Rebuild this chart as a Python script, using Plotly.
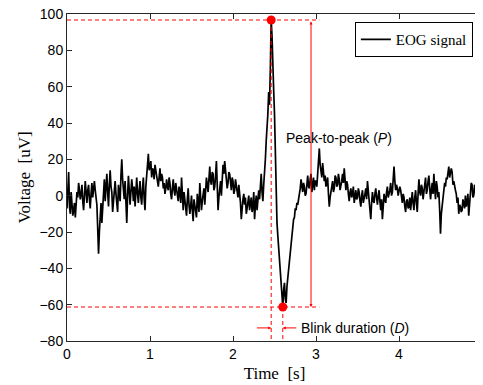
import numpy as np
import plotly.graph_objects as go

# ---- data ----
sample_step = 0.01  # s
eog_uv = [
    -7, 4, 13, -6, -10, 2, -3, -11, -8, -4,
    -12, -5, 2, -1, 7, 3, -2, 1, 6, -3,
    -8, 0, 8, 2, -4, 3, 6, -2, -7, 1,
    7, -1, 4, 8, 3, -3, -5, -18, -32, -20,
    -10, -4, -15, -6, 5, 9, -3, 4, 12, 2,
    -6, 6, 14, 5, 2, -9, -2, 3, 8, 1,
    -4, -9, 6, 0, -3, 11, 20, 9, 3, -2,
    8, -4, -15, 0, 11, 3, -5, 2, 9, 4,
    -3, 5, -6, 2, 10, 1, -4, 3, 8, -1,
    -5, 4, 10, -2, -8, 5, 12, 18, 23, 14,
    16, 19, 10, 15, 14, 9, 17, 13, 12, 8,
    5, 11, 15, 8, 12, 10, 4, 7, 1, 4,
    9, 5, 3, 10, 7, 1, -2, 4, 9, 3,
    0, 7, 4, 0, -3, 5, 2, -4, 10, 1,
    -8, 2, -3, -7, -11, -2, 4, -5, -10, -6,
    0, -8, -14, -2, -5, -10, -12, 1, -3, -9,
    7, -1, -8, -3, 2, 4, -5, 3, 10, 6,
    2, 9, 16, 8, 6, 13, 12, 3, 5, 11,
    19, 6, -8, -1, 5, 8, 0, 9, 17, 12,
    19, 14, 10, 4, 7, 13, 12, 6, 3, 10,
    8, 1, 3, 9, 5, 4, -1, 6, 2, -4,
    -13, -6, -2, 1, -5, -1, -10, -7, -3, 0,
    -8, -4, -1, -9, -6, 2, -13, -5, 0, -8,
    -4, 3, -2, 5, 12, 2, -3, 6, 12, 20,
    30, 36, 45, 57, 50, 70, 96.7, 88, 62, 58,
    45, 20, -8, -15, -22, -28, -35, -45, -50, -56,
    -61.3, -52, -48, -57, -59, -50, -45, -40, -35, -31,
    -28, -20, -17, -13, -12, -7, -8, -4, -5, -2,
    0, 4, 9, 3, 2, 7, 5, 0, 1, 6,
    11, 5, 4, 9, 12, 2, 6, 10, 3, 8,
    8, 5, 12, 20, 26, 17, 14, 10, 18, 12,
    8, 11, 5, 7, 10, 1, -6, -1, 2, 5,
    8, 2, 4, 11, 10, 5, 6, 12, 9, 3,
    5, 8, 12, 7, 15, 9, 3, 8, 6, 1,
    -3, 2, 4, -1, 1, 5, -4, -1, 3, -2,
    -1, 4, 2, -3, -6, 0, 3, -4, -2, 1,
    4, -2, 8, 3, -1, -7, -13, -4, 2, -3,
    -4, 1, 4, -1, -5, 0, 3, -3, -8, -2,
    -13, -6, 1, -2, -4, 2, 5, -1, 1, 3,
    7, 0, 2, 9, 16, 8, 3, 6, 4, 0,
    2, 5, 3, -2, -4, 1, -1, -6, -9, -3,
    -2, -7, -6, -1, -8, -3, 2, -4, -8, -1,
    3, -4, -9, 1, 9, 2, 0, 6, 4, -2,
    2, 6, 10, 1, 3, 8, 11, 4, -2, 3,
    7, 1, 12, 4, -2, 8, 5, -1, 2, -8,
    -21, -10, -5, 1, 3, 7, 5, 10, 9, 13,
    16, 10, 12, 15, 13, 6, 8, 4, 3, 1,
    -4, -1, -10, -5, -6, -9, -8, -2, -5, -7,
    0, -6, -4, 1, -11, -3, 2, 7, 6, -1,
    0, 6, 4, -2, 3, 9, 8, 2, 1, 5,
    3,
]
time_s = [round(i * sample_step, 2) for i in range(len(eog_uv))]

x_ticks = [0, 1, 2, 3, 4, 5]
y_ticks = [-80, -60, -40, -20, 0, 20, 40, 60, 80, 100]
x_range = [0, 5]
y_range = [-80, 100]

guide_end_t = 3.04        # end of horizontal dashed guides
p_arrow_t = 2.94          # position of peak-to-peak arrow
blink_left_tail_t = 2.27
blink_right_tail_t = 2.78
blink_arrow_v = -72.8
p_label_t, p_label_v = 2.61, 31.8
d_label_t = 2.79

legend_label = "EOG signal"
p_label = "Peak-to-peak (<i>P</i>)"
d_label = "Blink duration (<i>D</i>)"

# ---- derived points ----
i_peak = int(np.argmax(eog_uv))
i_trough = int(np.argmin(eog_uv))
peak_t, peak_v = time_s[i_peak], eog_uv[i_peak]
trough_t, trough_v = time_s[i_trough], eog_uv[i_trough]

RED = "#ff0000"
DASH = "4px,3px"

fig = go.Figure()
fig.add_trace(go.Scatter(x=time_s, y=eog_uv, mode="lines", name=legend_label,
                         line=dict(color="black", width=1.7)))

# dashed guides
fig.add_trace(go.Scatter(x=[x_range[0], guide_end_t], y=[peak_v, peak_v], mode="lines",
                         line=dict(color=RED, width=1, dash=DASH), showlegend=False))
fig.add_trace(go.Scatter(x=[x_range[0], guide_end_t], y=[trough_v, trough_v], mode="lines",
                         line=dict(color=RED, width=1, dash=DASH), showlegend=False))
fig.add_trace(go.Scatter(x=[peak_t, peak_t], y=[peak_v, y_range[0]], mode="lines",
                         line=dict(color=RED, width=1, dash=DASH), showlegend=False))
fig.add_trace(go.Scatter(x=[trough_t, trough_t], y=[trough_v, y_range[0]], mode="lines",
                         line=dict(color=RED, width=1, dash=DASH), showlegend=False))

# markers
fig.add_trace(go.Scatter(x=[peak_t, trough_t], y=[peak_v, trough_v], mode="markers",
                         marker=dict(color=RED, size=9), showlegend=False))

annotations = [
    # peak-to-peak double arrow
    dict(x=p_arrow_t, y=trough_v, ax=p_arrow_t, ay=peak_v, xref="x", yref="y",
         axref="x", ayref="y", showarrow=True, arrowside="end+start", arrowhead=2,
         arrowsize=0.6, arrowwidth=1, arrowcolor=RED, text=""),
    # blink duration arrows
    dict(x=peak_t, y=blink_arrow_v, ax=blink_left_tail_t, ay=blink_arrow_v, xref="x", yref="y",
         axref="x", ayref="y", showarrow=True, arrowhead=2, arrowsize=0.6, arrowwidth=1,
         arrowcolor=RED, text=""),
    dict(x=trough_t, y=blink_arrow_v, ax=blink_right_tail_t, ay=blink_arrow_v, xref="x", yref="y",
         axref="x", ayref="y", showarrow=True, arrowhead=2, arrowsize=0.6, arrowwidth=1,
         arrowcolor=RED, text=""),
    dict(x=p_label_t, y=p_label_v, xref="x", yref="y", text=p_label, showarrow=False,
         xanchor="left", yanchor="middle",
         font=dict(family="Liberation Sans, Arial", size=14, color="black")),
    dict(x=d_label_t, y=blink_arrow_v, xref="x", yref="y", text=d_label, showarrow=False,
         xanchor="left", yanchor="middle",
         font=dict(family="Liberation Sans, Arial", size=14, color="black")),
]

axis_common = dict(showline=True, linecolor="#262626", linewidth=1, mirror="allticks",
                   ticks="inside", ticklen=5, tickcolor="#262626", showgrid=False,
                   zeroline=False, automargin=False, ticklabeloverflow="allow",
                   tickfont=dict(family="Liberation Sans, Arial", size=14, color="black"))

# the page body has an 8px margin, so the figure is sized/positioned to compensate
fig.update_layout(
    width=475, height=377,
    margin=dict(l=59, r=1, t=6, b=44),
    paper_bgcolor="white", plot_bgcolor="white",
    xaxis=dict(range=x_range, tickvals=x_ticks,
               title=dict(text="Time  [s]", standoff=6,
                          font=dict(family="Liberation Serif, DejaVu Serif", size=17, color="black")),
               **axis_common),
    yaxis=dict(range=y_range, tickvals=y_ticks,
               title=dict(text="Voltage  [uV]", standoff=4,
                          font=dict(family="Liberation Serif, DejaVu Serif", size=17, color="black")),
               **axis_common),
    legend=dict(x=0.978, y=0.975, xanchor="right", yanchor="top",
                bgcolor="white", bordercolor="black", borderwidth=1,
                font=dict(family="Liberation Serif, DejaVu Serif", size=15, color="black"),
                tracegroupgap=0, itemwidth=30),
    annotations=annotations,
    showlegend=True,
)

fig.write_html("out.html")
